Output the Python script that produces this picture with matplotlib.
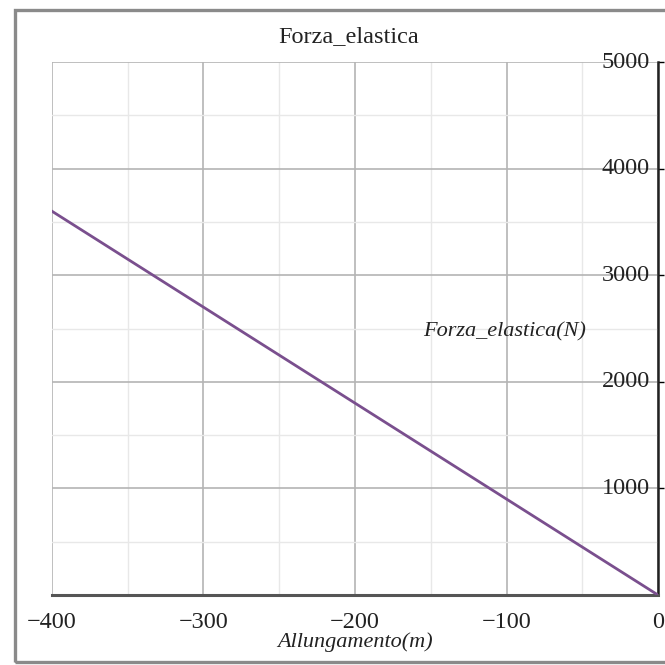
import matplotlib
matplotlib.use("Agg")
import matplotlib.pyplot as plt
from matplotlib.patches import Rectangle
from matplotlib.ticker import MultipleLocator

plt.rcParams['font.family'] = ['Liberation Serif', 'DejaVu Serif']

allungamento = [-400, 0]
forza = [3600, 0]
x_ticks = [-400, -300, -200, -100, 0]
y_ticks = [1000, 2000, 3000, 4000, 5000]

fig = plt.figure(figsize=(6.65, 6.65), dpi=100)
fig.patches.append(Rectangle((15/665, 1-662/665), 700/665, (662-10)/665,
                             transform=fig.transFigure, fill=False,
                             edgecolor='#8a8a8a', linewidth=2.4, zorder=0))

ax = fig.add_axes([52/665, 1-595/665, (658-52)/665, (595-62)/665])
ax.plot(allungamento, forza, color='#7a4f8e', linewidth=2, zorder=3)
ax.set_xlim(-400, 0)
ax.set_ylim(0, 5000)

ax.xaxis.set_minor_locator(MultipleLocator(50))
ax.yaxis.set_minor_locator(MultipleLocator(500))
ax.set_xticks(x_ticks)
ax.set_yticks(y_ticks)
ax.set_xticklabels([('\u2212' + str(-v)) if v < 0 else str(v) for v in x_ticks])

ax.grid(which='major', color='#b4b4b4', linewidth=1.2)
ax.grid(which='minor', color='#e8e8e8', linewidth=1.0)
ax.set_axisbelow(True)

for s in ['top', 'left']:
    ax.spines[s].set_visible(False)
ax.spines['right'].set_color('#222222')
ax.spines['right'].set_linewidth(1.8)
ax.spines['bottom'].set_color('#555555')
ax.spines['bottom'].set_linewidth(2.2)

ax.yaxis.set_ticks_position('right')
ax.tick_params(axis='y', which='major', direction='out', length=4, width=1,
               labelright=False, labelleft=False, right=True, left=False)
ax.tick_params(axis='y', which='minor', length=0)
ax.tick_params(axis='x', which='major', direction='out', length=0, labelsize=17.5, pad=12,
               colors='#222222')
ax.tick_params(axis='x', which='minor', length=0)
for v in y_ticks:
    ax.annotate(str(v), xy=(0, v), xycoords='data', xytext=(-6, 0),
                textcoords='offset points', ha='right', va='center',
                fontsize=17.5, color='#222222', annotation_clip=False)

ax.text(0.49, 1.047, 'Forza_elastica', transform=ax.transAxes, ha='center',
        va='center', fontsize=17.5, color='#222222')
ax.set_xlabel('Allungamento(m)', fontstyle='italic', fontsize=16, labelpad=0,
              color='#222222')
ax.text(-101, 2470, 'Forza_elastica(N)', ha='center', va='center',
        fontstyle='italic', fontsize=16, color='#222222')

fig.savefig('out.png', dpi=100)
